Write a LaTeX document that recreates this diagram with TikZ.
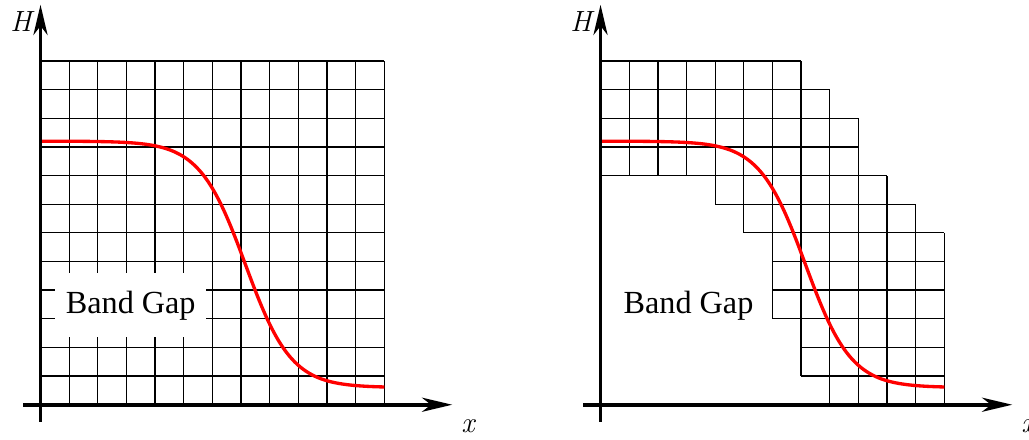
\documentclass[tikz,border=0pt]{standalone}
\usepackage{fontspec}
\newfontfamily\timesfont{Liberation Serif}
\usetikzlibrary{arrows.meta}
\tikzset{
  gridline/.style={line width=1.3pt},
  axisline/.style={line width=3.6pt, -{Stealth[length=30pt,width=14pt,inset=9pt]}},
  bandcurve/.style={red, line width=3.3pt},
  gaplabel/.style={font=\timesfont\fontsize{32}{38}\selectfont, inner sep=0pt},
  axlabel/.style={font=\fontsize{29}{34}\selectfont\itshape, inner sep=0pt},
}
\begin{document}
\begin{tikzpicture}[x=1cm,y=1cm]
\useasboundingbox (-1.4136,-1.197) rectangle (34.50,14.126);
% ---------- left panel ----------
\begin{scope}
  \draw[gridline] (0,0) grid (12,12);
  \node[gaplabel, fill=white, minimum width=5.26cm, minimum height=2.23cm] (gapL) at (3.15,3.47) {Band Gap};
  \draw[bandcurve] plot[domain=0:12, samples=120, smooth] (\x, {0.6+8.6/(1+exp((\x-7.15)/0.8))});
  \coordinate (xsL) at (-0.60,0);
  \coordinate (xeL) at (14.37,0);
  \coordinate (ysL) at (0,-0.593);
  \coordinate (yeL) at (0,13.96);
  \draw[axisline] (xsL) -- (xeL);
  \draw[axisline] (ysL) -- (yeL);
  \node[axlabel] (HL) at (-0.68,13.36) {H};
  \node[axlabel] (xL) at (14.92,-0.74) {x};
\end{scope}
% ---------- right panel ----------
\begin{scope}[xshift=19.546cm]
  \foreach \r/\a/\b in {11/0/7, 10/0/8, 9/0/9, 8/0/9, 7/4/10, 6/5/11, 5/6/12, 4/6/12, 3/6/12, 2/7/12, 1/7/12, 0/8/12}
    \draw[gridline] (\a,\r) grid (\b,{\r+1});
  \node[gaplabel] (gapR) at (3.07,3.45) {Band Gap};
  \draw[bandcurve] plot[domain=0:12, samples=120, smooth] (\x, {0.6+8.6/(1+exp((\x-7.15)/0.8))});
  \coordinate (xsR) at (-0.60,0);
  \coordinate (xeR) at (14.37,0);
  \coordinate (ysR) at (0,-0.593);
  \coordinate (yeR) at (0,13.96);
  \draw[axisline] (xsR) -- (xeR);
  \draw[axisline] (ysR) -- (yeR);
  \node[axlabel] (HR) at (-0.68,13.36) {H};
  \node[axlabel] (xR) at (14.92,-0.74) {x};
\end{scope}
\end{tikzpicture}
\end{document}
